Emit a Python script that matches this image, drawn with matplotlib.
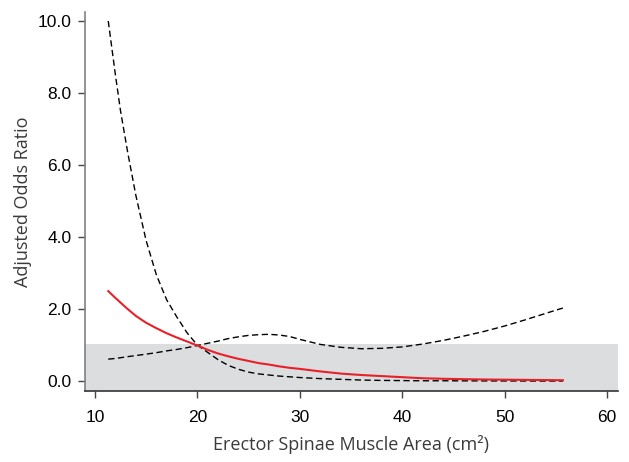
import matplotlib
matplotlib.use("Agg")
import matplotlib.pyplot as plt
from matplotlib.font_manager import FontProperties

# values
area = [11.3, 12, 12.5, 13.2, 14, 15, 16, 17, 18, 19, 20, 21, 22, 23, 24, 25, 26, 27,
        28, 29, 30, 32, 34, 36, 38, 40, 42, 44, 46, 48, 50, 52, 54, 55.7]
odds = [2.50, 2.31, 2.18, 2.00, 1.81, 1.62, 1.47, 1.33, 1.21, 1.10, 0.99, 0.87, 0.77, 0.69,
        0.62, 0.56, 0.50, 0.46, 0.41, 0.37, 0.34, 0.27, 0.21, 0.17, 0.14, 0.11, 0.08, 0.065,
        0.055, 0.045, 0.04, 0.035, 0.03, 0.025]
lower = [10.0, 8.5, 7.5, 6.35, 5.15, 3.9, 2.95, 2.26, 1.78, 1.34, 1.0, 0.80, 0.60, 0.44,
         0.33, 0.25, 0.20, 0.17, 0.14, 0.12, 0.10, 0.07, 0.05, 0.03, 0.02, 0.015, 0.01,
         0.01, 0.008, 0.006, 0.005, 0.004, 0.003, 0.003]
upper = [0.61, 0.63, 0.65, 0.68, 0.71, 0.75, 0.79, 0.84, 0.88, 0.93, 0.99, 1.05, 1.11, 1.18,
         1.23, 1.27, 1.29, 1.30, 1.28, 1.24, 1.16, 1.02, 0.94, 0.90, 0.91, 0.95, 1.03, 1.13,
         1.25, 1.38, 1.53, 1.70, 1.88, 2.03]
x_ticks = [10, 20, 30, 40, 50, 60]
y_ticks = [0, 2, 4, 6, 8, 10]
band_top = 1.03

fig = plt.figure(figsize=(6.29, 4.62), dpi=100)
ax = fig.add_axes([0.135, 0.154, 0.8475, 0.82])

ax.axhspan(-1, band_top, color='#dcdddf', lw=0, zorder=0)
dash = (0, (4.5, 2.5))
ax.plot(area, lower, color='black', lw=1.0, linestyle=dash, zorder=2)
ax.plot(area, upper, color='black', lw=1.0, linestyle=dash, zorder=2)
ax.plot(area, odds, color='#e8202a', lw=1.5, zorder=3)

ax.set_xlim(9.02, 61.08)
ax.set_ylim(-0.27, 10.25)
ax.set_xticks(x_ticks)
ax.set_xticklabels([str(t) for t in x_ticks])
ax.set_yticks(y_ticks)
ax.set_yticklabels([f"{t:.1f}" for t in y_ticks])

for s in ['top', 'right']:
    ax.spines[s].set_visible(False)
ax.spines['left'].set_color('#808080')
ax.spines['bottom'].set_color('#333333')
ax.spines['left'].set_linewidth(1.2)
ax.spines['bottom'].set_linewidth(1.2)
ax.tick_params(axis='both', direction='out', length=5, width=1, color='#444444')
ax.tick_params(axis='x', pad=9)
ax.tick_params(axis='y', pad=4.5)

tick_font = FontProperties(family='Liberation Sans', stretch='normal', size=12.5)
for lab in ax.get_xticklabels() + ax.get_yticklabels():
    lab.set_fontproperties(tick_font)

ax.set_xlabel("Erector Spinae Muscle Area (cm²)", family='Open Sans', fontsize=13,
              color='#3a3a3a', labelpad=7)
ax.set_ylabel("Adjusted Odds Ratio", family='Open Sans', fontsize=13,
              color='#3a3a3a', labelpad=4)

fig.savefig("out.png", dpi=100)
